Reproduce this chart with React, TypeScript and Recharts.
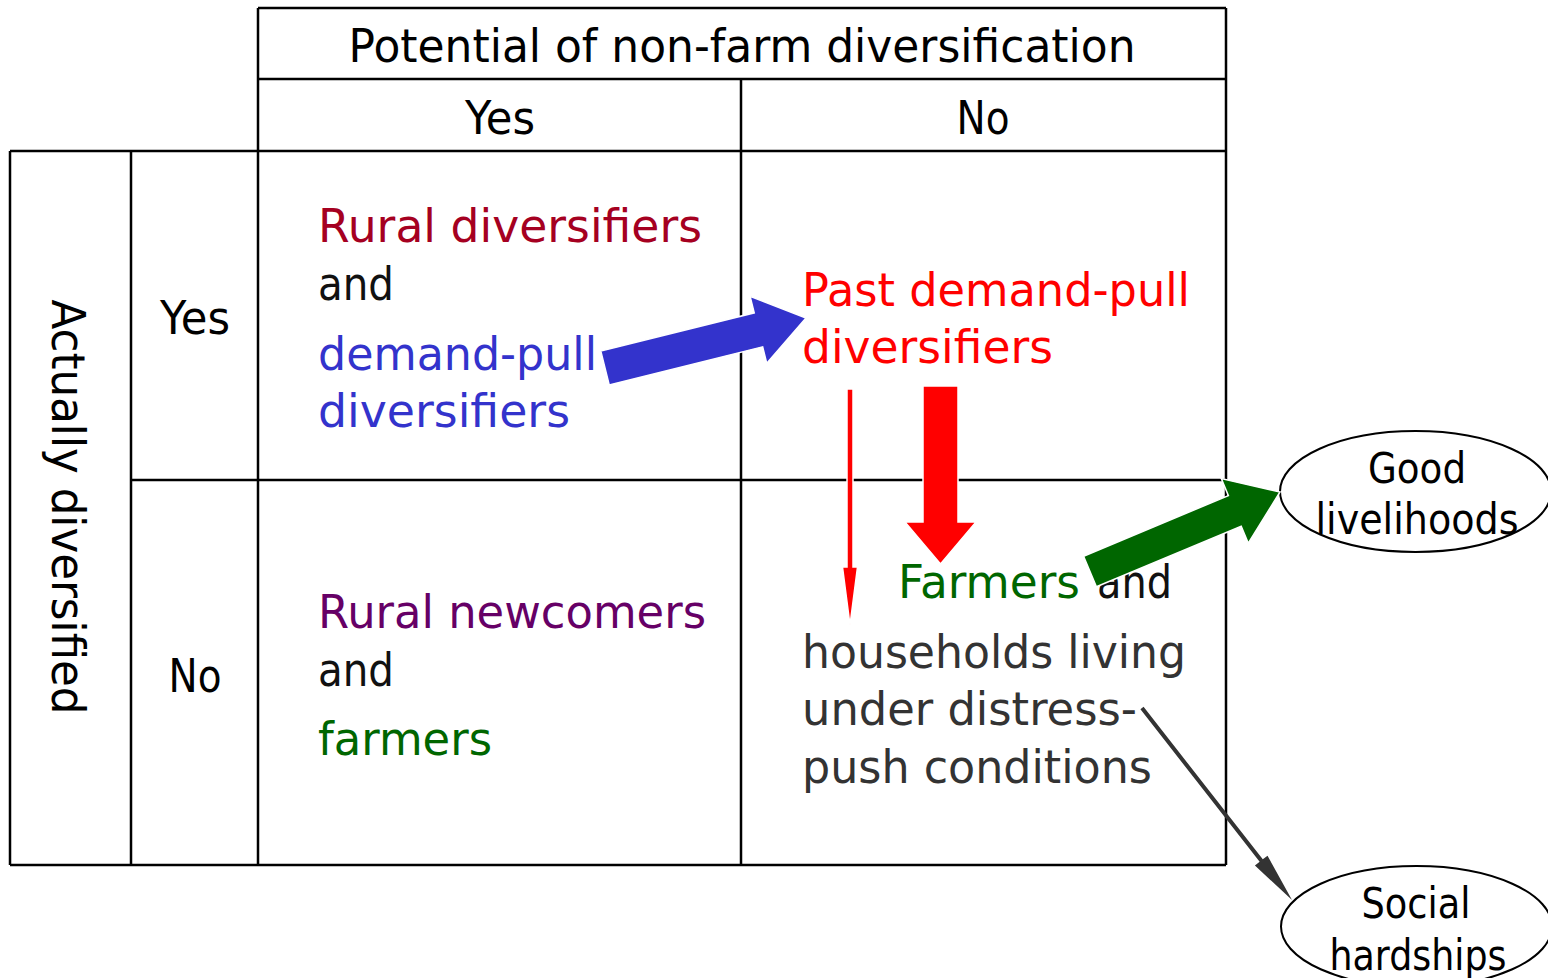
import {
  ComposedChart,
  XAxis,
  YAxis,
  Scatter,
  ReferenceLine,
  ReferenceArea,
} from "recharts";

const W = 1548;
const H = 978;

// grid of the 2x2 table (diagram units)
const gridSegments = [
  [[258, 8], [1226, 8]],
  [[258, 79], [1226, 79]],
  [[10, 151], [1226, 151]],
  [[131, 480], [1226, 480]],
  [[10, 865], [1226, 865]],
  [[10, 151], [10, 865]],
  [[131, 151], [131, 865]],
  [[258, 8], [258, 865]],
  [[741, 79], [741, 865]],
  [[1226, 8], [1226, 865]],
];

const headerLabels = [
  { id: "potential", text: "Potential of non-farm diversification", x: 742, y: 62 },
  { id: "colYes", text: "Yes", x: 500, y: 134 },
  { id: "colNo", text: "No", x: 983, y: 134 },
  { id: "rowYes", text: "Yes", x: 195, y: 334 },
  { id: "rowNo", text: "No", x: 195, y: 692 },
];

const sideLabels = [{ id: "actually", text: "Actually diversified", x: 68, y: 507 }];

const cellLabels = [
  { id: "ruralDiv", text: "Rural diversifiers", x: 318, y: 242, tone: "crimson" },
  { id: "and1", text: "and", x: 318, y: 300, tone: "black" },
  { id: "demandPull", text: "demand-pull", x: 318, y: 370, tone: "blue" },
  { id: "div1", text: "diversifiers", x: 318, y: 427, tone: "blue" },
  { id: "pastPull", text: "Past demand-pull", x: 802, y: 306, tone: "red" },
  { id: "div2", text: "diversifiers", x: 802, y: 363, tone: "red" },
  { id: "newcomers", text: "Rural newcomers", x: 318, y: 628, tone: "purple" },
  { id: "and2", text: "and", x: 318, y: 686, tone: "black" },
  { id: "farmers", text: "farmers", x: 318, y: 755, tone: "green" },
  { id: "Farmers", text: "Farmers", x: 898, y: 598, tone: "green" },
  { id: "and3", text: "and", x: 1097, y: 598, tone: "black" },
  { id: "households", text: "households living", x: 802, y: 668, tone: "dark" },
  { id: "under", text: "under distress-", x: 802, y: 725, tone: "dark" },
  { id: "push", text: "push conditions", x: 802, y: 783, tone: "dark" },
];

const ovalLabels = [
  { id: "good", text: "Good", x: 1417, y: 483 },
  { id: "livelihoods", text: "livelihoods", x: 1417, y: 534 },
  { id: "social", text: "Social", x: 1416, y: 918 },
  { id: "hardships", text: "hardships", x: 1418, y: 970 },
];

const ovals = [
  { id: "goodOval", x1: 1280, x2: 1551, y1: 431, y2: 552 },
  { id: "socialOval", x1: 1281, x2: 1552, y1: 866, y2: 987 },
];

const arrows = [
  { id: "blue", from: [605, 368], to: [806, 318] },
  { id: "redThin", from: [850, 389], to: [850, 625] },
  { id: "redBig", from: [940.5, 386], to: [940.5, 564] },
  { id: "green", from: [1090, 571.5], to: [1280, 492] },
  { id: "gray", from: [1142, 708], to: [1292, 900] },
];

// styles
const FONT = "'DejaVu Sans', Verdana, sans-serif";

const tones: Record<string, string> = {
  crimson: "#a50021",
  blue: "#3333cc",
  red: "#ff0000",
  purple: "#660066",
  green: "#006600",
  dark: "#333333",
  black: "#111111",
};

const fitWidth: Record<string, number> = {
  potential: 787,
  colYes: 70,
  colNo: 53,
  rowYes: 70,
  rowNo: 53,
  actually: 415,
  ruralDiv: 384,
  and1: 76,
  demandPull: 279,
  div1: 252,
  pastPull: 388,
  div2: 251,
  newcomers: 388,
  and2: 76,
  farmers: 174,
  Farmers: 182,
  and3: 75,
  households: 384,
  under: 335,
  push: 350,
  good: 98,
  livelihoods: 203,
  social: 109,
  hardships: 177,
};

const arrowStyle: Record<string, { color: string; shaft: number; head: number; len: number; outline: number }> = {
  blue: { color: "#3333cc", shaft: 17.5, head: 34.5, len: 49, outline: 1.5 },
  redThin: { color: "#ff0000", shaft: 3, head: 7.5, len: 58, outline: 1.5 },
  redBig: { color: "#ff0000", shaft: 17.5, head: 35.5, len: 42, outline: 1.5 },
  green: { color: "#006600", shaft: 16.6, head: 35, len: 49, outline: 1.5 },
  gray: { color: "#333333", shaft: 2, head: 8, len: 50, outline: 0 },
};

const arrowShape = (id: string) => (p: any) => {
  const st = arrowStyle[id];
  const { x1, y1, x2, y2 } = p;
  const dx = x2 - x1;
  const dy = y2 - y1;
  const l = Math.hypot(dx, dy);
  const ux = dx / l;
  const uy = dy / l;
  const nx = -uy;
  const ny = ux;
  const bx = x2 - ux * st.len;
  const by = y2 - uy * st.len;
  const s = st.shaft;
  const h = st.head;
  const pts = [
    [x1 + nx * s, y1 + ny * s],
    [bx + nx * s, by + ny * s],
    [bx + nx * h, by + ny * h],
    [x2, y2],
    [bx - nx * h, by - ny * h],
    [bx - nx * s, by - ny * s],
    [x1 - nx * s, y1 - ny * s],
  ]
    .map((q) => q.join(","))
    .join(" ");
  return (
    <polygon
      points={pts}
      fill={st.color}
      stroke={st.outline ? "#ffffff" : "none"}
      strokeWidth={st.outline}
    />
  );
};

const textShape =
  (size: number, anchor: "start" | "middle", rotate = false) =>
  (p: any) => {
    const d = p.payload;
    const color = d.tone ? tones[d.tone] : "#000000";
    return (
      <text
        x={p.cx}
        y={p.cy}
        fontFamily={FONT}
        fontSize={size}
        fill={color}
        textAnchor={anchor}
        dominantBaseline={rotate ? "central" : "alphabetic"}
        textLength={fitWidth[d.id]}
        lengthAdjust="spacingAndGlyphs"
        transform={rotate ? `rotate(90 ${p.cx} ${p.cy})` : undefined}
      >
        {d.text}
      </text>
    );
  };

const ovalShape = (p: any) => (
  <ellipse
    cx={p.x + p.width / 2}
    cy={p.y + p.height / 2}
    rx={p.width / 2}
    ry={p.height / 2}
    fill="none"
    stroke="#000000"
    strokeWidth={2}
  />
);

const App = () => {
  return (
    <div
      style={{
        position: "absolute",
        left: 0,
        top: 0,
        width: W,
        height: H,
        background: "#ffffff",
        overflow: "hidden",
      }}
    >
      <ComposedChart width={W} height={H} margin={{ top: 0, right: 0, bottom: 0, left: 0 }}>
        <XAxis type="number" dataKey="x" domain={[0, W]} hide allowDataOverflow />
        <YAxis type="number" dataKey="y" domain={[0, H]} reversed hide allowDataOverflow />

        {/* table */}
        {gridSegments.map((seg, i) => (
          <ReferenceLine
            key={"g" + i}
            segment={[
              { x: seg[0][0], y: seg[0][1] },
              { x: seg[1][0], y: seg[1][1] },
            ]}
            stroke="#000000"
            strokeWidth={2.5}
            ifOverflow="visible"
          />
        ))}

        {/* ovals */}
        {ovals.map((o) => (
          <ReferenceArea
            key={o.id}
            x1={o.x1}
            x2={o.x2}
            y1={o.y1}
            y2={o.y2}
            ifOverflow="visible"
            shape={ovalShape}
          />
        ))}

        {/* texts */}
        <Scatter data={headerLabels} isAnimationActive={false} shape={textShape(46, "middle")} />
        <Scatter data={sideLabels} isAnimationActive={false} shape={textShape(46, "middle", true)} />
        <Scatter data={cellLabels} isAnimationActive={false} shape={textShape(46, "start")} />
        <Scatter data={ovalLabels} isAnimationActive={false} shape={textShape(43, "middle")} />

        {/* arrows */}
        {arrows.map((a) => (
          <ReferenceLine
            key={a.id}
            segment={[
              { x: a.from[0], y: a.from[1] },
              { x: a.to[0], y: a.to[1] },
            ]}
            ifOverflow="visible"
            zIndex={900}
            shape={arrowShape(a.id)}
          />
        ))}
      </ComposedChart>
    </div>
  );
};

export default App;
